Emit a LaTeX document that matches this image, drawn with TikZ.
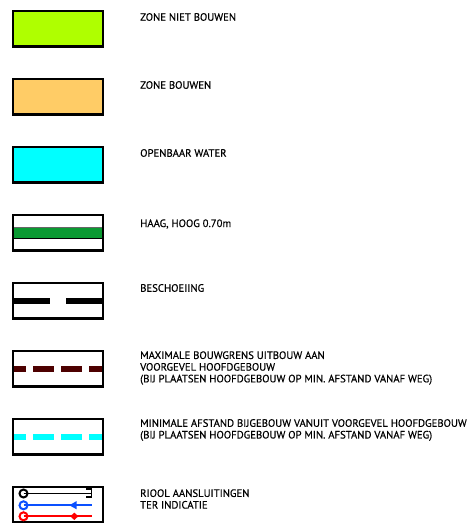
\documentclass[tikz,border=0pt]{standalone}
\usepackage{fontspec}
\setmainfont{PT Sans}[FakeBold=0.5]
\usetikzlibrary{arrows.meta, positioning}
\definecolor{limezone}{HTML}{AFFF00}
\definecolor{buildzone}{HTML}{FFCC66}
\definecolor{waterzone}{HTML}{00FFFF}
\definecolor{hedgeband}{HTML}{0A9A32}
\definecolor{limitband}{HTML}{4D0000}
\definecolor{sewerblue}{HTML}{0A50FF}

\begin{document}
\begin{tikzpicture}[
    x=1pt, y=-1pt,
    swatch/.style={rectangle, draw=black, line width=2.5pt, outer sep=0pt, minimum width=90pt, minimum height=35.5pt, inner sep=0pt, anchor=north west},
    legendtext/.style={anchor=west, align=left, inner sep=0pt, font=\fontsize{10.7}{11.7}\selectfont},
    band/.style={line width=6.3pt, shorten <=1.25pt, shorten >=1.25pt},
    sewer/.style={line width=1.7pt},
    ring/.style={circle, draw, line width=2pt, outer sep=0pt, minimum size=8pt, inner sep=0pt}
]
\useasboundingbox (0,0) rectangle (471,523);

% filled zones
\node[swatch, fill=limezone] (s1) at (13,11) {};
\node[swatch, fill=buildzone] (s2) at (13,79) {};
\node[swatch, fill=waterzone] (s3) at (13,147) {};

% line types
\node[swatch] (s4) at (13,215) {};
\node[swatch] (s5) at (13,283) {};
\node[swatch] (s6) at (13,351) {};
\node[swatch] (s7) at (13,419) {};
\node[swatch] (s8) at (13,487) {};

\draw[band, hedgeband, line width=10.5pt] (s4.west) -- (s4.east);
\draw[black!60, line width=0.5pt, shorten <=1.25pt, shorten >=1.25pt] ([yshift=5.5pt]s4.west) -- ([yshift=5.5pt]s4.east);
\draw[black, line width=1pt, shorten <=1.25pt, shorten >=1.25pt] ([yshift=-5.5pt]s4.west) -- ([yshift=-5.5pt]s4.east);
\draw[band, black, dash pattern=on 38pt off 16pt, dash phase=2.25pt] (s5.west) -- (s5.east);
\draw[band, limitband, dash pattern=on 21pt off 7pt, dash phase=9.25pt] (s6.west) -- (s6.east);
\draw[band, waterzone, dash pattern=on 21pt off 7pt, dash phase=9.25pt] (s7.west) -- (s7.east);

% sewer connections
\node[ring, draw=black] (r1) at (23.5,493.5) {};
\node[ring, draw=sewerblue] (r2) at (23.5,505.3) {};
\node[ring, draw=red] (r3) at (23.5,516.3) {};
\coordinate (e1) at (91.5,493.5);
\coordinate (e2) at (92.3,505.3);
\coordinate (e3) at (92.3,516.3);
\draw[sewer, black] (r1.center) -- (e1);
\draw[sewer, black] (86,489.3) -- (91.5,489.3) -- (91.5,497.3) -- (86,497.3);
\draw[sewer, sewerblue] (r2.center) -- (e2);
\fill[sewerblue] (69.3,505.3) -- (76.7,501) -- (76.7,509.3) -- cycle;
\draw[sewer, red] (r3.center) -- (e3);
\fill[red] (70.3,516.3) -- (74.3,512.6) -- (78.3,516.3) -- (74.3,520) -- cycle;

% labels
\node[legendtext] (t1) at (140,17) {ZONE NIET BOUWEN};
\node[legendtext] (t2) at (140,85) {ZONE BOUWEN};
\node[legendtext] (t3) at (140,153) {OPENBAAR WATER};
\node[legendtext] (t4) at (140,224) {HAAG, HOOG 0.70m};
\node[legendtext] (t5) at (140,288) {BESCHOEIING};
\node[legendtext] (t6) at (140,368) {MAXIMALE BOUWGRENS UITBOUW AAN\\VOORGEVEL HOOFDGEBOUW\\(BIJ PLAATSEN HOOFDGEBOUW OP MIN. AFSTAND VANAF WEG)};
\node[legendtext] (t7) at (140,430) {MINIMALE AFSTAND BIJGEBOUW VANUIT VOORGEVEL HOOFDGEBOUW\\(BIJ PLAATSEN HOOFDGEBOUW OP MIN. AFSTAND VANAF WEG)};
\node[legendtext] (t8) at (140,499) {RIOOL AANSLUITINGEN\\TER INDICATIE};

\end{tikzpicture}
\end{document}
